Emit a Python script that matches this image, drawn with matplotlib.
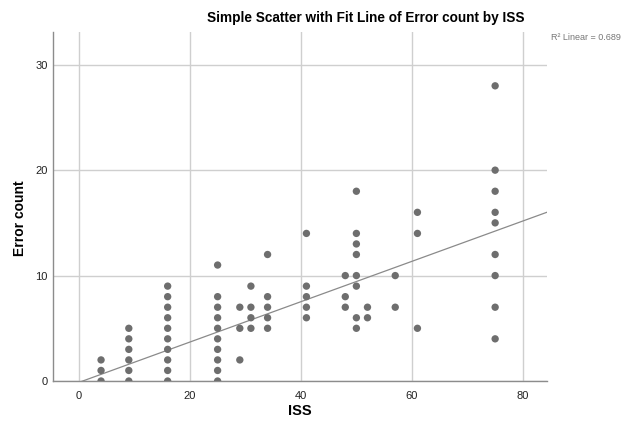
import matplotlib
matplotlib.use("Agg")
import matplotlib.pyplot as plt
import numpy as np

plt.rcParams['font.family'] = ['Liberation Sans', 'DejaVu Sans']

# ISS values (x) and error counts (y), read column by column
iss_4 = [0, 1, 2]
iss_9 = [0, 1, 2, 3, 4, 5]
iss_16 = [0, 1, 2, 3, 4, 5, 6, 7, 8, 9]
iss_25 = [0, 1, 2, 3, 4, 5, 6, 7, 8, 11]
iss_29 = [2, 5, 7]
iss_31 = [5, 6, 7, 9]
iss_34 = [5, 6, 7, 8, 12]
iss_41 = [6, 7, 8, 9, 14]
iss_48 = [7, 8, 10]
iss_50 = [5, 6, 9, 10, 12, 13, 14, 18]
iss_52 = [6, 7]
iss_57 = [7, 10]
iss_61 = [5, 14, 16]
iss_75 = [4, 7, 10, 12, 15, 16, 18, 20, 28]

columns = {4: iss_4, 9: iss_9, 16: iss_16, 25: iss_25, 29: iss_29, 31: iss_31,
           34: iss_34, 41: iss_41, 48: iss_48, 50: iss_50, 52: iss_52,
           57: iss_57, 61: iss_61, 75: iss_75}

# Linear fit line as shown (R² Linear = 0.689)
fit_slope = 0.1914
fit_intercept = -0.134
r2_label = "R² Linear = 0.689"

x_ticks = [0, 20, 40, 60, 80]
y_ticks = [0, 10, 20, 30]

xs = np.concatenate([[k] * len(v) for k, v in columns.items()])
ys = np.concatenate([v for v in columns.values()])

fig = plt.figure(figsize=(6.31, 4.24), dpi=100)
ax = fig.add_axes([0.0845, 0.1014, 0.782, 0.823])

ax.set_xlim(-4.6, 84.3)
ax.set_ylim(0, 33.1)
ax.set_xticks(x_ticks)
ax.set_yticks(y_ticks)
ax.grid(True, color='#cfcfcf', linewidth=1.0, zorder=0)
ax.set_axisbelow(True)

for s in ['top', 'right']:
    ax.spines[s].set_visible(False)
for s in ['left', 'bottom']:
    ax.spines[s].set_color('#8c8c8c')
    ax.spines[s].set_linewidth(1.0)

ax.tick_params(axis='x', length=0, labelsize=8, colors='#222222', pad=7)
ax.tick_params(axis='y', length=0, labelsize=8, colors='#222222', pad=4)

xl = np.array(ax.get_xlim())
ax.plot(xl, fit_intercept + fit_slope * xl, color='#8a8a8a', linewidth=0.9, zorder=2)

ax.scatter(xs, ys, s=28, color='#6e6e6e', edgecolors='none', zorder=3)

fig.text(300 / 631, 1 - 411 / 424, 'ISS', ha='center', va='center',
         fontsize=10.5, fontweight='bold')
fig.text(20 / 631, 1 - 218 / 424, 'Error count', ha='center', va='center',
         rotation=90, fontsize=10, fontweight='bold')

fig.text(366 / 631, 1 - 18 / 424, 'Simple Scatter with Fit Line of Error count by ISS',
         ha='center', va='center', fontsize=9.8, fontweight='bold')
fig.text(551 / 631, 1 - 38 / 424, r2_label, ha='left', va='center',
         fontsize=6.5, color='#777777')

fig.savefig('out.png', dpi=100)
